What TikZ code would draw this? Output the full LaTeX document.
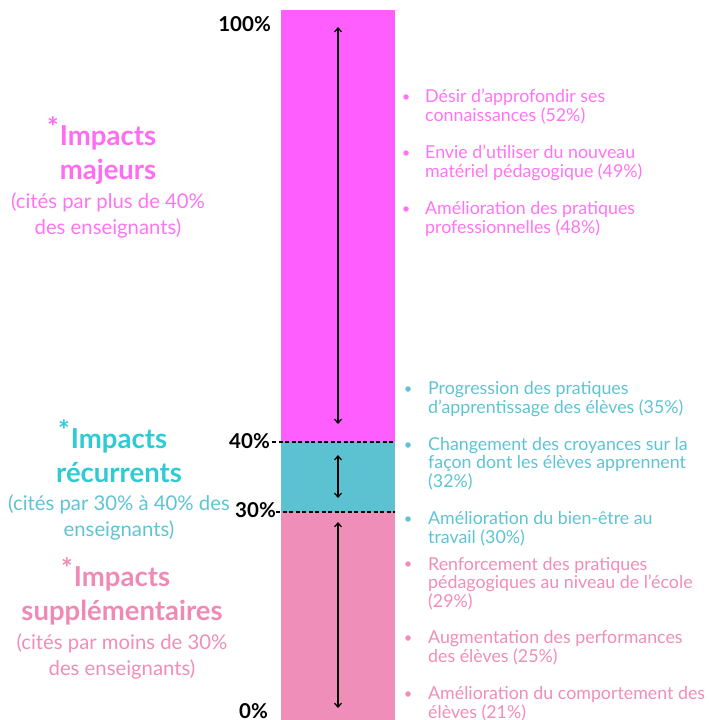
\documentclass[tikz,border=0pt]{standalone}
\usepackage{fontspec}
\setmainfont{Lato}
\usetikzlibrary{arrows.meta}
\definecolor{barM}{HTML}{FF5EFF}
\definecolor{barT}{HTML}{5CC2D2}
\definecolor{barP}{HTML}{EF8EB9}
\definecolor{txtM}{HTML}{FF74F4}
\definecolor{hdM}{HTML}{FF6CF2}
\definecolor{txtT}{HTML}{5EC3D3}
\definecolor{hdT}{HTML}{2ECBD5}
\definecolor{txtP}{HTML}{F08DB8}
\definecolor{hdP}{HTML}{EF8AB6}
\tikzset{
  item/.style={anchor=base west, inner sep=0pt, align=left, font=\fontsize{17.8}{18.6}\selectfont},
  bul/.style={circle, inner sep=0pt, minimum size=5.5pt},
  pct/.style={anchor=base east, inner sep=0pt, font=\fontsize{20.5}{22}\selectfont\bfseries, text=black},
  hd/.style={anchor=base, inner sep=0pt, align=center, font=\fontsize{27.5}{33.5}\selectfont\bfseries},
  sub/.style={anchor=base, inner sep=0pt, align=center, font=\fontsize{20.3}{26}\selectfont},
  sep/.style={black, dashed, line width=1.1pt, dash pattern=on 4pt off 2.5pt},
  rng/.style={black, line width=1.2pt, {Straight Barb[length=4pt,width=7pt]}-{Straight Barb[length=4pt,width=7pt]}}
}
\newcommand{\stx}{\llap{\raisebox{8pt}{*}\hspace{1pt}}}
\begin{document}
\begin{tikzpicture}[x=1pt,y=-1pt]
\useasboundingbox (0,0) rectangle (709,720);
% bars
\fill[barM] (281,10) rectangle (395,442);
\fill[barT] (281,442) rectangle (395,512);
\fill[barP] (281,512) rectangle (395,720);
% separators
\coordinate (s40a) at (272,442); \coordinate (s40b) at (395,442);
\coordinate (s30a) at (276,512); \coordinate (s30b) at (395,512);
\draw[sep] (s40a) -- (s40b);
\draw[sep] (s30a) -- (s30b);
% range arrows
\coordinate (a1) at (338,27); \coordinate (a2) at (338,424);
\coordinate (b1) at (338,455); \coordinate (b2) at (338,498);
\coordinate (c1) at (338,522); \coordinate (c2) at (338,708);
\draw[rng] (a1) -- (a2);
\draw[rng] (b1) -- (b2);
\draw[rng] (c1) -- (c2);
% percent labels
\node[pct] (p100) at (271,31) {100\%};
\node[pct] (p40) at (270,448) {40\%};
\node[pct] (p30) at (276,517) {30\%};
\node[pct] (p0) at (268,718) {0\%};
% left headings (anchored at baseline of last line)
\node[hd, text=hdM] (hM) at (108,179) {\stx Impacts\\majeurs};
\node[sub, text=txtM] (sM) at (108,234) {(cités par plus de 40\%\\des enseignants)};
\node[hd, text=hdT] (hT) at (119,482) {\stx Impacts\\récurrents};
\node[sub, text=txtT] (sT) at (119,536) {(cités par 30\% à 40\% des\\enseignants)};
\node[hd, text=hdP] (hP) at (122,620) {\stx Impacts\\supplémentaires};
\node[sub, text=txtP] (sP) at (122,675) {(cités par moins de 30\%\\des enseignants)};
% list items (anchored at baseline of last line)
\node[bul, fill=txtM] (bm1) at (406,97) {};
\node[item, text=txtM] (m1) at (425,121.5) {Désir d'approfondir ses\\connaissances (52\%)};
\node[bul, fill=txtM] (bm2) at (406,153) {};
\node[item, text=txtM] (m2) at (425,177.5) {Envie d'utiliser du nouveau\\matériel pédagogique (49\%)};
\node[bul, fill=txtM] (bm3) at (406,209) {};
\node[item, text=txtM] (m3) at (425,233.5) {Amélioration des pratiques\\professionnelles (48\%)};
\node[bul, fill=txtT] (bt1) at (408,389) {};
\node[item, text=txtT] (t1) at (428,413.5) {Progression des pratiques\\d'apprentissage des élèves (35\%)};
\node[bul, fill=txtT] (bt2) at (408,445) {};
\node[item, text=txtT] (t2) at (428,487.5) {Changement des croyances sur la\\façon dont les élèves apprennent\\(32\%)};
\node[bul, fill=txtT] (bt3) at (408,519) {};
\node[item, text=txtT] (t3) at (428,543.5) {Amélioration du bien-être au\\travail (30\%)};
\node[bul, fill=txtP] (bp1) at (408,564) {};
\node[item, text=txtP] (q1) at (428,607.5) {Renforcement des pratiques\\pédagogiques au niveau de l'école\\(29\%)};
\node[bul, fill=txtP] (bp2) at (408,638) {};
\node[item, text=txtP] (q2) at (428,662.5) {Augmentation des performances\\des élèves (25\%)};
\node[bul, fill=txtP] (bp3) at (408,694) {};
\node[item, text=txtP] (q3) at (428,718.5) {Amélioration du comportement des\\élèves (21\%)};
\end{tikzpicture}
\end{document}
